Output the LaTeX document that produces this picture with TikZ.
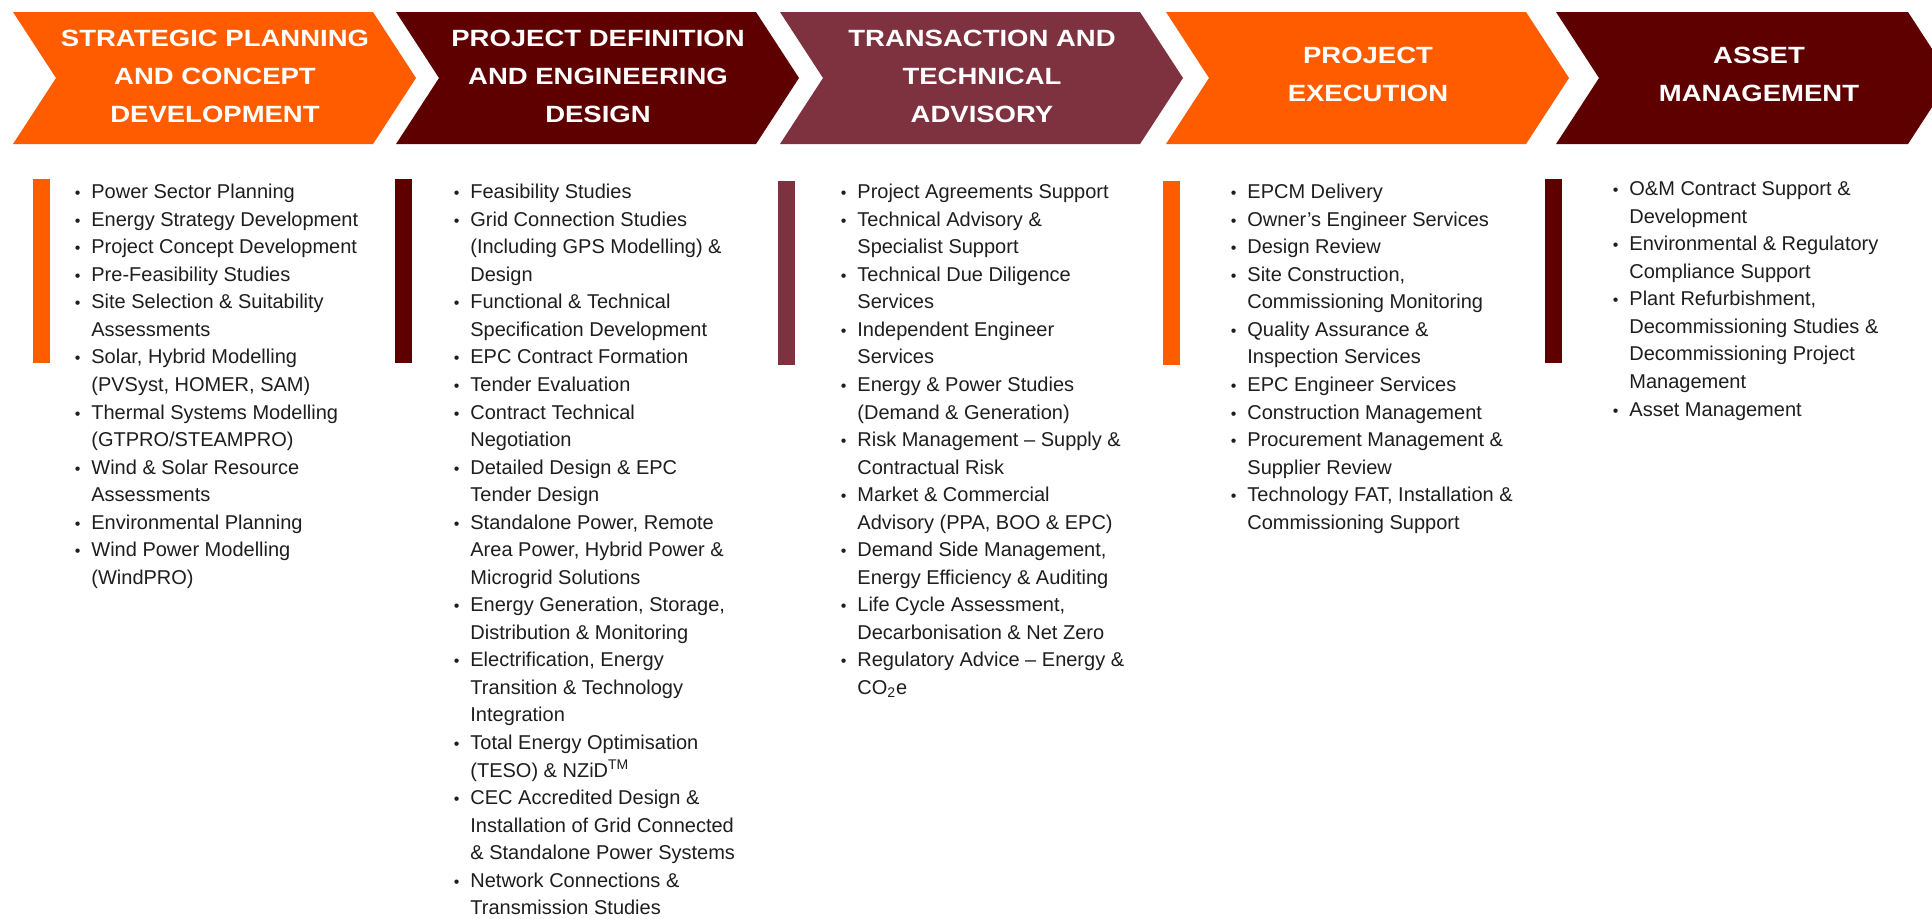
\documentclass[tikz,border=0pt]{standalone}
\usepackage{fontspec}
\setmainfont{Liberation Sans}
\newfontfamily\headfont{Liberation Sans}[FakeStretch=1.17]
\definecolor{corange}{RGB}{255,92,0}
\definecolor{cmaroon}{RGB}{94,0,0}
\definecolor{cwine}{RGB}{126,50,64}
\definecolor{ctext}{RGB}{30,30,30}
\newcommand\bul{\llap{{\fontsize{8pt}{8pt}\selectfont •}\hspace{5.5pt}}}
\newcommand\mychev[3]{%
  \fill[#3] (#1,12) -- ({#1+#2},12) -- ({#1+#2+43},78) -- ({#1+#2},144) -- (#1,144) -- ({#1+43},78) -- cycle;}
\tikzset{
  head/.style={font=\headfont\bfseries\fontsize{11.75pt}{19pt}\selectfont, text=white, align=center, inner sep=0pt},
  body/.style={font=\fontsize{10pt}{13.77pt}\selectfont, text=ctext, align=left, inner sep=0pt, anchor=north west},
  bar/.style={fill=#1, draw=none}
}
\begin{document}
\begin{tikzpicture}[x=0.5pt,y=-0.5pt]
\useasboundingbox (0,0) rectangle (1932,918);
\clip (0,0) rectangle (1932,918);
\fill[white] (0,0) rectangle (1932,918);
% chevrons
\mychev{13}{360}{corange}
\mychev{396}{360}{cmaroon}
\mychev{780}{360}{cwine}
\mychev{1166}{360}{corange}
\mychev{1556}{352}{cmaroon}
% headers
\node[head] (h1) at (215,76) {STRATEGIC PLANNING\\AND CONCEPT\\DEVELOPMENT};
\node[head] (h2) at (598,76) {PROJECT DEFINITION\\AND ENGINEERING\\DESIGN};
\node[head] (h3) at (982,76) {TRANSACTION AND\\TECHNICAL\\ADVISORY};
\node[head] (h4) at (1368,74) {PROJECT\\EXECUTION};
\node[head] (h5) at (1759,74) {ASSET\\MANAGEMENT};
% bars
\fill[bar=corange] (33,179) rectangle (50,363);
\fill[bar=cmaroon] (395,179) rectangle (412,363);
\fill[bar=cwine] (778,181) rectangle (795,365);
\fill[bar=corange] (1163,181) rectangle (1180,365);
\fill[bar=cmaroon] (1545,179) rectangle (1562,363);
% columns
\node[body] (c1) at (91,179) {\strut\bul Power Sector Planning\\
\bul Energy Strategy Development\\
\bul Project Concept Development\\
\bul Pre-Feasibility Studies\\
\bul Site Selection \& Suitability\\
Assessments\\
\bul Solar, Hybrid Modelling\\
(PVSyst, HOMER, SAM)\\
\bul Thermal Systems Modelling\\
(GTPRO/STEAMPRO)\\
\bul Wind \& Solar Resource\\
Assessments\\
\bul Environmental Planning\\
\bul Wind Power Modelling\\
(WindPRO)};
\node[body] (c2) at (470,179) {\strut\bul Feasibility Studies\\
\bul Grid Connection Studies\\
(Including GPS Modelling) \&\\
Design\\
\bul Functional \& Technical\\
Specification Development\\
\bul EPC Contract Formation\\
\bul Tender Evaluation\\
\bul Contract Technical\\
Negotiation\\
\bul Detailed Design \& EPC\\
Tender Design\\
\bul Standalone Power, Remote\\
Area Power, Hybrid Power \&\\
Microgrid Solutions\\
\bul Energy Generation, Storage,\\
Distribution \& Monitoring\\
\bul Electrification, Energy\\
Transition \& Technology\\
Integration\\
\bul Total Energy Optimisation\\
(TESO) \& NZiD\textsuperscript{TM}\\
\bul CEC Accredited Design \&\\
Installation of Grid Connected\\
\& Standalone Power Systems\\
\bul Network Connections \&\\
Transmission Studies};
\node[body] (c3) at (857,179) {\strut\bul Project Agreements Support\\
\bul Technical Advisory \&\\
Specialist Support\\
\bul Technical Due Diligence\\
Services\\
\bul Independent Engineer\\
Services\\
\bul Energy \& Power Studies\\
(Demand \& Generation)\\
\bul Risk Management – Supply \&\\
Contractual Risk\\
\bul Market \& Commercial\\
Advisory (PPA, BOO \& EPC)\\
\bul Demand Side Management,\\
Energy Efficiency \& Auditing\\
\bul Life Cycle Assessment,\\
Decarbonisation \& Net Zero\\
\bul Regulatory Advice – Energy \&\\
CO\textsubscript{2}e};
\node[body] (c4) at (1247,179) {\strut\bul EPCM Delivery\\
\bul Owner's Engineer Services\\
\bul Design Review\\
\bul Site Construction,\\
Commissioning Monitoring\\
\bul Quality Assurance \&\\
Inspection Services\\
\bul EPC Engineer Services\\
\bul Construction Management\\
\bul Procurement Management \&\\
Supplier Review\\
\bul Technology FAT, Installation \&\\
Commissioning Support};
\node[body] (c5) at (1629,176) {\strut\bul O\&M Contract Support \&\\
Development\\
\bul Environmental \& Regulatory\\
Compliance Support\\
\bul Plant Refurbishment,\\
Decommissioning Studies \&\\
Decommissioning Project\\
Management\\
\bul Asset Management};
\end{tikzpicture}
\end{document}
